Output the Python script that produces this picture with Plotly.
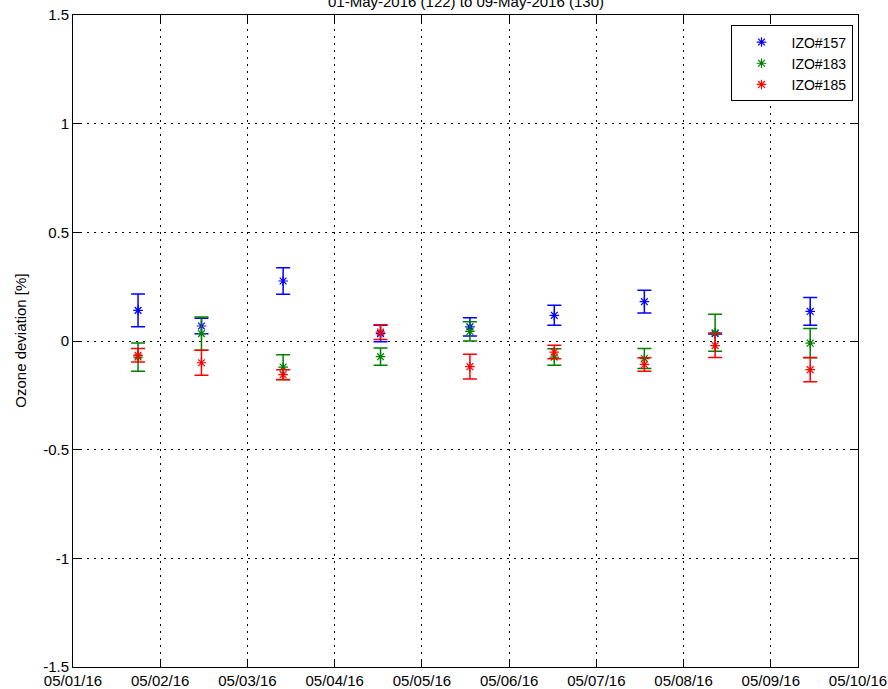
import plotly.graph_objects as go

dates = ["2016-05-01 17:54", "2016-05-02 11:21", "2016-05-03 09:49", "2016-05-04 12:37",
         "2016-05-05 13:13", "2016-05-06 12:26", "2016-05-07 13:13", "2016-05-08 08:41",
         "2016-05-09 10:51"]

izo157 = [0.141, 0.069, 0.276, 0.034, 0.065, 0.118, 0.181, 0.034, 0.136]
izo157_err = [0.075, 0.036, 0.061, 0.038, 0.042, 0.046, 0.052, 0.002, 0.064]
izo183 = [-0.074, 0.034, -0.120, -0.072, 0.044, -0.074, -0.081, 0.038, -0.010]
izo183_err = [0.065, 0.077, 0.057, 0.040, 0.044, 0.038, 0.046, 0.085, 0.067]
izo185 = [-0.066, -0.100, -0.155, 0.041, -0.118, -0.051, -0.108, -0.021, -0.132]
izo185_err = [0.031, 0.058, 0.023, 0.034, 0.057, 0.031, 0.031, 0.055, 0.056]

series_names = ["IZO#157", "IZO#183", "IZO#185"]
series_colors = ["#0000FF", "#008000", "#FF0000"]

y_tickvals = [-1.5, -1, -0.5, 0, 0.5, 1, 1.5]
y_ticktext = ["-1.5", "-1", "-0.5", "0", "0.5", "1", "1.5"]

title_text = "01-May-2016 (122) to 09-May-2016 (130)"
ylabel_text = "Ozone deviation [%]"

FONT = "Liberation Sans, Arial, sans-serif"

fig = go.Figure()
for name, vals, errs, col in zip(series_names,
                                 [izo157, izo183, izo185],
                                 [izo157_err, izo183_err, izo185_err],
                                 series_colors):
    fig.add_trace(go.Scatter(
        x=dates, y=vals, name=name, mode="markers",
        marker=dict(symbol="asterisk-open", size=8, color=col,
                    line=dict(color=col, width=1.2)),
        error_y=dict(type="data", array=errs, visible=True, color=col,
                     thickness=1.5, width=7),
    ))

axis_common = dict(
    showline=True, linecolor="black", linewidth=1, mirror="ticks",
    ticks="inside", ticklen=8, tickcolor="black", tickwidth=1,
    showgrid=True, gridcolor="black", gridwidth=1, griddash="2px,5px",
    zeroline=False, tickfont=dict(family=FONT, size=15, color="black"),
    automargin=False, ticklabeloverflow="allow",
)

fig.update_xaxes(type="date", range=["2016-05-01", "2016-05-10"],
                 dtick=86400000, tick0="2016-05-01", tickformat="%m/%d/%y",
                 **axis_common)
fig.update_yaxes(range=[-1.5, 1.5], tickvals=y_tickvals, ticktext=y_ticktext,
                 **axis_common)

fig.add_annotation(text=title_text, xref="paper", yref="paper", x=0.5, y=1.0202,
                   xanchor="center", yanchor="middle", showarrow=False,
                   font=dict(family=FONT, size=15, color="black"))
fig.add_annotation(text=ylabel_text, xref="paper", yref="paper", x=-0.0679, y=0.5,
                   xanchor="center", yanchor="middle", showarrow=False, textangle=-90,
                   font=dict(family=FONT, size=15, color="black"))

fig.update_layout(
    width=888, height=689,
    margin=dict(l=73, r=30, t=15, b=22),
    paper_bgcolor="white", plot_bgcolor="white",
    showlegend=True,
    legend=dict(x=0.993, y=0.984, xanchor="right", yanchor="top",
                bgcolor="white", bordercolor="black", borderwidth=1,
                font=dict(family=FONT, size=14, color="black"),
                itemwidth=50, tracegroupgap=0),
)

fig.write_html("out.html",
               config={"displayModeBar": False},
               post_script="document.body.style.margin='0';document.body.style.overflow='hidden';")
